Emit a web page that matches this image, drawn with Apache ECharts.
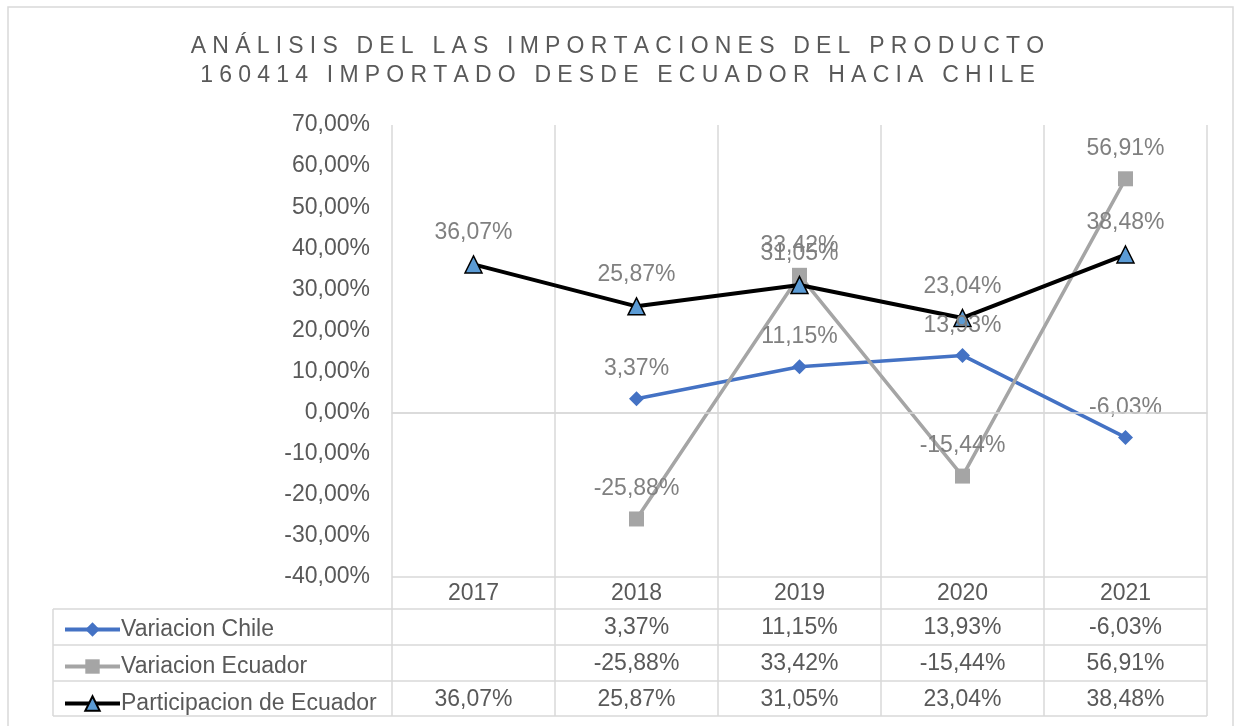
<!DOCTYPE html>
<html>
<head>
<meta charset="utf-8">
<script src="https://cdn.jsdelivr.net/npm/echarts@6/dist/echarts.min.js"></script>
<style>
  html, body { margin: 0; padding: 0; background: #fff; }
  #main { width: 1235px; height: 726px; }
</style>
</head>
<body>
<div id="main"></div>
<script>
// datos del grafico
let years = ["2017", "2018", "2019", "2020", "2021"];
let variacionChile = [null, 3.37, 11.15, 13.93, -6.03];
let variacionEcuador = [null, -25.88, 33.42, -15.44, 56.91];
let participacionEcuador = [36.07, 25.87, 31.05, 23.04, 38.48];
let seriesNames = ["Variacion Chile", "Variacion Ecuador", "Participacion de Ecuador"];
let tituloLineas = [
  "ANÁLISIS DEL LAS IMPORTACIONES DEL PRODUCTO",
  "160414 IMPORTADO DESDE ECUADOR HACIA CHILE"
];

let fmt = v => (v === null || v === undefined) ? "" : v.toFixed(2).replace(".", ",") + "%";

let grisTexto = "#595959";
let grisLinea = "#d9d9d9";
let fuente = "Liberation Sans, Arial, sans-serif";
let tam = 23;

// titulo con espaciado entre letras (cada letra es un segmento rich)
let tituloTexto = tituloLineas
  .map(l => l.split("").map(ch => "{c|" + ch + "}").join(""))
  .join("\n");

let myChart = echarts.init(document.getElementById("main"));

// filas de la tabla: un eje de categorias extra por fila
let filas = [variacionChile, variacionEcuador, participacionEcuador];
let ejesTabla = filas.map((fila, i) => ({
  type: "category",
  position: "bottom",
  offset: 36 * (i + 1) - 2,
  data: fila.map(fmt),
  axisLine: { show: false },
  axisTick: { show: false },
  splitLine: { show: false },
  axisLabel: { margin: 5, fontSize: tam, color: grisTexto, fontFamily: fuente, interval: 0 }
}));

let labelComun = {
  show: true,
  position: "top",
  distance: 11,
  fontSize: tam,
  color: "#808080",
  fontFamily: fuente,
  formatter: p => fmt(p.value)
};

let option = {
  animation: false,
  title: {
    text: tituloTexto,
    left: "center",
    top: 27,
    textStyle: {
      fontWeight: "normal",
      rich: {
        c: {
          fontSize: 23,
          fontWeight: "normal",
          fontFamily: fuente,
          color: grisTexto,
          lineHeight: 29,
          padding: [0, 3.1, 0, 3.1]
        }
      }
    }
  },
  legend: {
    orient: "vertical",
    left: 58,
    top: 613,
    itemGap: 14,
    itemWidth: 55,
    itemHeight: 18,
    lineStyle: { width: 4 },
    textStyle: { fontSize: tam, color: grisTexto, fontFamily: fuente, lineHeight: 22, padding: [0, 0, 0, -4] },
    data: seriesNames
  },
  grid: { left: 392, right: 28, top: 125, bottom: 149 },
  xAxis: [
    {
      type: "category",
      position: "bottom",
      data: years,
      boundaryGap: true,
      axisLine: { show: true, lineStyle: { color: grisLinea, width: 1.5 } },
      axisTick: { show: false },
      splitLine: { show: true, lineStyle: { color: grisLinea, width: 1.5 } },
      axisLabel: { margin: 5, fontSize: tam, color: grisTexto, fontFamily: fuente }
    }
  ].concat(ejesTabla),
  yAxis: {
    type: "value",
    min: -40,
    max: 70,
    interval: 10,
    axisLine: { show: false },
    axisTick: { show: false },
    splitLine: { show: false },
    axisLabel: {
      margin: 22,
      fontSize: tam,
      color: grisTexto,
      fontFamily: fuente,
      formatter: v => fmt(v)
    }
  },
  series: [
    {
      name: seriesNames[0],
      type: "line",
      data: variacionChile,
      symbol: "diamond",
      symbolSize: 15,
      itemStyle: { color: "#4472C4" },
      lineStyle: { color: "#4472C4", width: 3.5 },
      label: labelComun,
      markLine: {
        silent: true,
        symbol: "none",
        label: { show: false },
        lineStyle: { color: grisLinea, width: 1.5, type: "solid" },
        data: [{ yAxis: 0 }]
      }
    },
    {
      name: seriesNames[1],
      type: "line",
      data: variacionEcuador,
      symbol: "rect",
      symbolSize: 15,
      itemStyle: { color: "#A5A5A5" },
      lineStyle: { color: "#A5A5A5", width: 3.5 },
      label: labelComun
    },
    {
      name: seriesNames[2],
      type: "line",
      data: participacionEcuador,
      symbol: "triangle",
      symbolSize: 17,
      itemStyle: { color: "#5B9BD5", borderColor: "#000", borderWidth: 1.5 },
      lineStyle: { color: "#000", width: 4 },
      label: labelComun
    }
  ]
};

myChart.setOption(option);

// lineas de la tabla de datos
function dibujarTabla() {
  let x0 = myChart.convertToPixel({ xAxisIndex: 0 }, years[0]);
  let x1 = myChart.convertToPixel({ xAxisIndex: 0 }, years[1]);
  let ancho = x1 - x0;
  let izq = x0 - ancho / 2;
  let der = izq + ancho * years.length;
  let yTop = myChart.convertToPixel({ yAxisIndex: 0 }, -40);
  let filasY = [yTop, yTop + 32, yTop + 68, yTop + 104, yTop + 139];
  let tablaIzq = 53;
  let lineas = [];
  filasY.forEach((y, i) => {
    lineas.push({
      type: "line",
      shape: { x1: i === 0 ? izq : tablaIzq, y1: y, x2: der, y2: y },
      style: { stroke: grisLinea, lineWidth: 1.5 }
    });
  });
  for (let k = 0; k <= years.length; k++) {
    let x = izq + ancho * k;
    lineas.push({
      type: "line",
      shape: { x1: x, y1: yTop, x2: x, y2: filasY[4] },
      style: { stroke: grisLinea, lineWidth: 1.5 }
    });
  }
  lineas.push({
    type: "line",
    shape: { x1: tablaIzq, y1: filasY[1], x2: tablaIzq, y2: filasY[4] },
    style: { stroke: grisLinea, lineWidth: 1.5 }
  });
  // borde del area del grafico
  lineas.push({
    type: "rect",
    shape: { x: 8, y: 7, width: 1225, height: 730 },
    style: { fill: "none", stroke: grisLinea, lineWidth: 1.5 },
    silent: true
  });
  myChart.setOption({ graphic: { elements: lineas } });
}
dibujarTabla();
</script>
</body>
</html>
